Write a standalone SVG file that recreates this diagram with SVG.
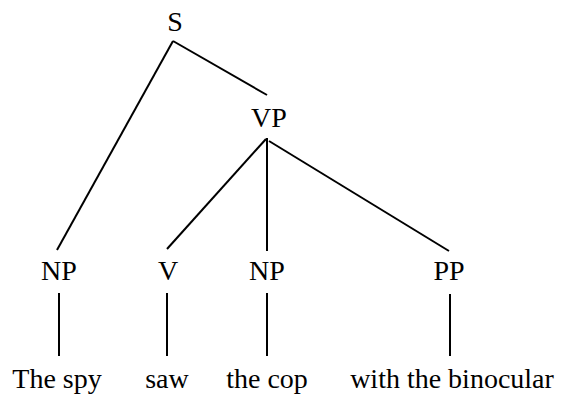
<svg xmlns="http://www.w3.org/2000/svg" width="561" height="399" viewBox="0 0 561 399">
<style>
text{font-family:'Liberation Serif','Times New Roman','DejaVu Serif',serif;font-size:28px;fill:#000;text-anchor:middle}
line{stroke:#000;stroke-width:2;stroke-linecap:butt}
</style>
<rect width="561" height="399" fill="#fff"/>
<g id="connectors">
<line x1="173" y1="41" x2="57" y2="250"/>
<line x1="173" y1="41" x2="267" y2="95"/>
<line x1="266" y1="139" x2="167" y2="249"/>
<line x1="267" y1="138" x2="267" y2="251"/>
<line x1="269" y1="141" x2="449" y2="251"/>
<line x1="59" y1="293" x2="59" y2="356"/>
<line x1="167" y1="293" x2="167" y2="356"/>
<line x1="267" y1="293" x2="267" y2="356"/>
<line x1="450" y1="294" x2="450" y2="356"/>
</g>
<g id="S"><text x="175" y="31" font-family="Liberation Serif, serif">S</text></g>
<g id="VP"><text x="269" y="127" font-family="Liberation Serif, serif">VP</text></g>
<g id="NP1"><text x="59" y="280" font-family="Liberation Serif, serif">NP</text></g>
<g id="V"><text x="168" y="280" font-family="Liberation Serif, serif">V</text></g>
<g id="NP2"><text x="267" y="280" font-family="Liberation Serif, serif">NP</text></g>
<g id="PP"><text x="449" y="280" font-family="Liberation Serif, serif">PP</text></g>
<g id="w1"><text x="57" y="388" font-family="Liberation Serif, serif">The spy</text></g>
<g id="w2"><text x="167" y="388" font-family="Liberation Serif, serif">saw</text></g>
<g id="w3"><text x="267" y="388" font-family="Liberation Serif, serif">the cop</text></g>
<g id="w4"><text x="452" y="388" font-family="Liberation Serif, serif">with the binocular</text></g>
</svg>
